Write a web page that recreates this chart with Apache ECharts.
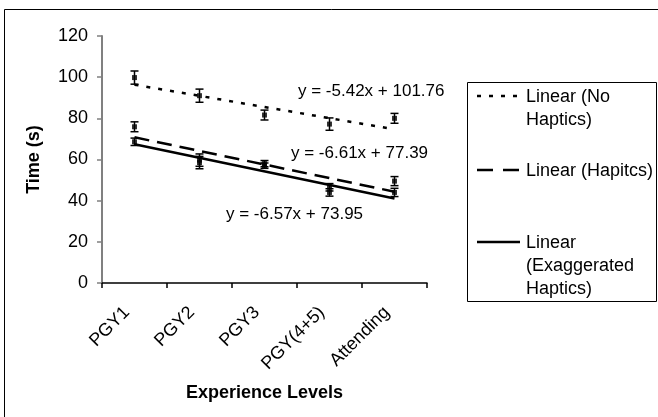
<!DOCTYPE html>
<html>
<head>
<meta charset="utf-8">
<script src="https://cdn.jsdelivr.net/npm/echarts@6/dist/echarts.min.js"></script>
<style>
html,body{margin:0;padding:0;background:#fff;}
#chart{width:658px;height:417px;}
</style>
</head>
<body>
<div id="chart"></div>
<script>
// ---- data ----
var categories = ['PGY1', 'PGY2', 'PGY3', 'PGY(4+5)', 'Attending'];
var yTicks = [0, 20, 40, 60, 80, 100, 120];

var noHapticsMean = [99.8, 91.0, 81.6, 77.2, 80.0];
var noHapticsErr  = [3.2, 3.2, 2.4, 3.0, 2.4];
var hapticsMean   = [75.9, 59.7, 58.0, 46.5, 49.5];
var hapticsErr    = [2.4, 3.0, 1.5, 1.8, 2.2];
var exagMean      = [68.6, 58.5, 57.0, 44.0, 44.0];
var exagErr       = [1.8, 3.0, 1.3, 1.8, 2.0];

var trendNames      = ['Linear (No Haptics)', 'Linear (Hapitcs)', 'Linear (Exaggerated Haptics)'];
var trendSlopes     = [-5.42, -6.61, -6.57];
var trendIntercepts = [101.76, 77.39, 73.95];

// ---- helpers ----
var FONT = '"Liberation Sans", Arial, sans-serif';
function trendData(k) {
  var n = categories.length;
  return [[0, trendSlopes[k] * 1 + trendIntercepts[k]],
          [n - 1, trendSlopes[k] * n + trendIntercepts[k]]];
}
function eqText(k) {
  return 'y = ' + trendSlopes[k].toFixed(2) + 'x + ' + trendIntercepts[k].toFixed(2);
}
function errData(mean, err) {
  return mean.map(function (m, i) { return [i, m - err[i], m + err[i]]; });
}
function meanData(mean) {
  return mean.map(function (m, i) { return [i, m]; });
}
function errRender(params, api) {
  var x = api.value(0);
  var pHi = api.coord([x, api.value(2)]);
  var pLo = api.coord([x, api.value(1)]);
  var w = 4;
  var st = { stroke: '#000', lineWidth: 1.5 };
  return {
    type: 'group',
    children: [
      { type: 'line', shape: { x1: pHi[0], y1: pHi[1], x2: pLo[0], y2: pLo[1] }, style: st },
      { type: 'line', shape: { x1: pHi[0] - w, y1: pHi[1], x2: pHi[0] + w, y2: pHi[1] }, style: st },
      { type: 'line', shape: { x1: pLo[0] - w, y1: pLo[1], x2: pLo[0] + w, y2: pLo[1] }, style: st }
    ]
  };
}

var dashes = [[4, 8], [15, 8], null];
var series = [];
[[noHapticsMean, noHapticsErr], [hapticsMean, hapticsErr], [exagMean, exagErr]].forEach(function (s, k) {
  series.push({
    type: 'line', name: trendNames[k], data: trendData(k), symbol: 'none', silent: true,
    lineStyle: { color: '#000', width: 2.5, type: dashes[k] ? dashes[k] : 'solid' }, z: 2
  });
  series.push({
    type: 'custom', renderItem: errRender, data: errData(s[0], s[1]),
    encode: { x: 0, y: [1, 2] }, z: 3, silent: true
  });
  series.push({
    type: 'scatter', data: meanData(s[0]), symbol: 'rect', symbolSize: 5,
    itemStyle: { color: '#000' }, z: 4, silent: true
  });
});

// ---- legend & annotations as graphic ----
var legendLeft = 467, legendTop = 82, legendW = 189, legendH = 219;
var legendLineX1 = 477, legendLineX2 = 520, legendTextX = 526;
var legendRowsY = [96, 170, 242];
var legendTexts = ['Linear (No\nHaptics)', 'Linear (Hapitcs)', 'Linear\n(Exaggerated\nHaptics)'];
var graphics = [
  { type: 'polyline', shape: { points: [[4.5, 417], [4.5, 9.5], [658, 9.5]] },
    style: { stroke: '#000', lineWidth: 1, fill: null }, silent: true },
  { type: 'rect', shape: { x: legendLeft + 0.5, y: legendTop + 0.5, width: legendW, height: legendH },
    style: { stroke: '#000', lineWidth: 1, fill: '#fff' }, silent: true }
];
legendRowsY.forEach(function (y, k) {
  graphics.push({
    type: 'line', shape: { x1: legendLineX1, y1: y, x2: legendLineX2, y2: y },
    style: { stroke: '#000', lineWidth: 2.5, lineDash: dashes[k] ? (k === 1 ? [16, 10] : dashes[k]) : null },
    silent: true
  });
  graphics.push({
    type: 'text', x: legendTextX, y: y - 10,
    style: { text: legendTexts[k], font: '18px ' + FONT, fill: '#000', lineHeight: 23, verticalAlign: 'top' },
    silent: true
  });
});
var eqPos = [[298, 91], [291, 153], [226, 214]];
eqPos.forEach(function (p, k) {
  graphics.push({
    type: 'text', x: p[0], y: p[1],
    style: { text: eqText(k), font: '17px ' + FONT, fill: '#000', verticalAlign: 'middle' },
    silent: true
  });
});

var chart = echarts.init(document.getElementById('chart'), null, { renderer: 'canvas' });
chart.setOption({
  animation: false,
  backgroundColor: '#fff',
  textStyle: { fontFamily: FONT },
  grid: { left: 102, right: 231, top: 36, bottom: 134, containLabel: false },
  xAxis: {
    type: 'category', data: categories, boundaryGap: true,
    name: 'Experience Levels', nameLocation: 'middle', nameGap: 101,
    nameTextStyle: { fontSize: 18, fontWeight: 'bold', color: '#000', fontFamily: FONT },
    axisLine: { lineStyle: { color: '#000', width: 1.5 } },
    axisTick: { show: true, length: 5, lineStyle: { color: '#000', width: 1.5 } },
    axisLabel: { rotate: 45, fontSize: 18, color: '#000', margin: 19, padding: [0, 11, 0, 0],
                 fontFamily: FONT, interval: 0 },
    splitLine: { show: false }
  },
  yAxis: {
    type: 'value', min: yTicks[0], max: yTicks[yTicks.length - 1], interval: yTicks[1] - yTicks[0],
    name: 'Time (s)', nameLocation: 'middle', nameGap: 59, nameRotate: 90,
    nameTextStyle: { fontSize: 18, fontWeight: 'bold', color: '#000', fontFamily: FONT },
    axisLine: { show: true, lineStyle: { color: '#808080', width: 2 } },
    axisTick: { show: true, length: 5, inside: false, lineStyle: { color: '#808080', width: 1.5 } },
    axisLabel: { fontSize: 18, color: '#000', margin: 14, fontFamily: FONT },
    splitLine: { show: false }
  },
  series: series,
  graphic: graphics
});
</script>
</body>
</html>
